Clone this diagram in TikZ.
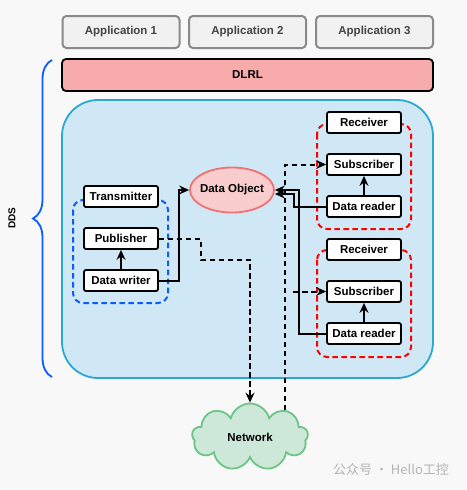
\documentclass[tikz,border=0pt]{standalone}
\usepackage{fontspec}
\setmainfont{Liberation Sans}
\newfontfamily\cjkfont{Noto Sans CJK SC}
\usepackage{tikz}
\usetikzlibrary{positioning,arrows.meta,shapes.geometric,shapes.symbols,decorations.pathreplacing}

\definecolor{bgcol}{HTML}{F8F8F8}
\definecolor{appfill}{HTML}{F1F1F1}
\definecolor{appdraw}{HTML}{8A8A8A}
\definecolor{apptext}{HTML}{444444}
\definecolor{dlrlfill}{HTML}{F8ABAB}
\definecolor{ddsfill}{HTML}{D0E8F5}
\definecolor{ddsdraw}{HTML}{2AA8D5}
\definecolor{objfill}{HTML}{F9CDCD}
\definecolor{objdraw}{HTML}{F07272}
\definecolor{netfill}{HTML}{CDE8D9}
\definecolor{netdraw}{HTML}{6CC486}
\definecolor{pubblue}{HTML}{0A5CFF}
\definecolor{subred}{HTML}{FF0000}
\definecolor{markgray}{HTML}{B4B4B4}

\begin{document}
\begin{tikzpicture}[x=1pt,y=-1pt]
	\tikzset{
		lbl/.style={font=\fontsize{11.5}{13}\selectfont\bfseries},
		app/.style={lbl,draw=appdraw,fill=appfill,text=apptext,line width=2pt,rounded corners=4pt,minimum width=117pt,minimum height=32pt,inner sep=0pt},
		block/.style={lbl,draw,fill=white,line width=1.8pt,rounded corners=2pt,minimum width=74pt,minimum height=21pt,inner sep=0pt},
		group/.style={dashed,dash pattern=on 5.5pt off 3.5pt,line width=2pt,rounded corners=10pt},
		flow/.style={line width=2pt,-{Stealth[length=10pt,width=9pt,inset=3.5pt]}},
		dflow/.style={flow,dash pattern=on 5.5pt off 3.5pt}
	}
	\useasboundingbox[fill=bgcol] (0,0) rectangle (466,490);

	% applications and DLRL
	\node[app] (app1) at (121,32) {Application 1};
	\node[app] (app2) at (247.5,32) {Application 2};
	\node[app] (app3) at (374.5,32) {Application 3};
	\node[lbl,draw,fill=dlrlfill,line width=1.8pt,rounded corners=4pt,minimum width=371pt,minimum height=32pt] (dlrl) at (247.5,75) {DLRL};

	% DDS area
	\node[draw=ddsdraw,fill=ddsfill,line width=1.8pt,rounded corners=36pt,minimum width=371pt,minimum height=278pt] (dds) at (247.5,239) {};
	\draw[decorate,decoration={brace,amplitude=19pt},pubblue,line width=1.8pt] (52,377) -- (52,60);
	\node[font=\fontsize{10}{12}\selectfont\bfseries,rotate=90] (ddslbl) at (12,218) {DDS};

	% publishing side
	\draw[group,pubblue] (73,200) rectangle (168,303);
	\node[block] (trans) at (121,196.5) {Transmitter};
	\node[block] (pub) at (121,238.5) {Publisher};
	\node[block] (writer) at (121,280.5) {Data writer};

	% subscribing side
	\draw[group,subred] (317,124) rectangle (411,229);
	\draw[group,subred] (317,250) rectangle (411,357);
	\node[block] (recv1) at (364,122.5) {Receiver};
	\node[block] (sub1) at (364,164.5) {Subscriber};
	\node[block] (reader1) at (364,206.5) {Data reader};
	\node[block] (recv2) at (364,249.5) {Receiver};
	\node[block] (sub2) at (364,291.5) {Subscriber};
	\node[block] (reader2) at (364,333.5) {Data reader};

	\node[ellipse,draw=objdraw,fill=objfill,line width=1.8pt,minimum width=84pt,minimum height=45pt,label={[lbl]center:Data Object}] (obj) at (232,190) {};
	\node[lbl,cloud,cloud puffs=9,aspect=1.75,draw=netdraw,fill=netfill,line width=1.8pt,minimum width=116pt,minimum height=67pt] (net) at (250,437) {Network};
	\coordinate (netout) at (285,410);

	% connectors
	\path[flow]
		(writer) edge (pub)
		(sub1 |- reader1.north) edge (sub1)
		(sub2 |- reader2.north) edge (sub2);
	\draw[flow] (writer.east) -- ++(20,0) |- (obj.west);
	\draw[flow] (reader1.west) -- ++(-32,0) |- ([yshift=-4pt]obj.east);
	\draw[flow] (reader2.west) -- ++(-27,0) |- (obj.east);
	\draw[dflow] (pub.east) -- ++(42,0) -- ++(0,21) -| (net.north);
	\draw[dflow] (netout) |- (sub1.west);
	\draw[dflow] ([xshift=8pt]netout |- sub2.west) -- (sub2.west);

	\node[font=\cjkfont\fontsize{13}{15}\selectfont,text=markgray] (mark) at (391,470) {公众号 · Hello工控};
\end{tikzpicture}
\end{document}
